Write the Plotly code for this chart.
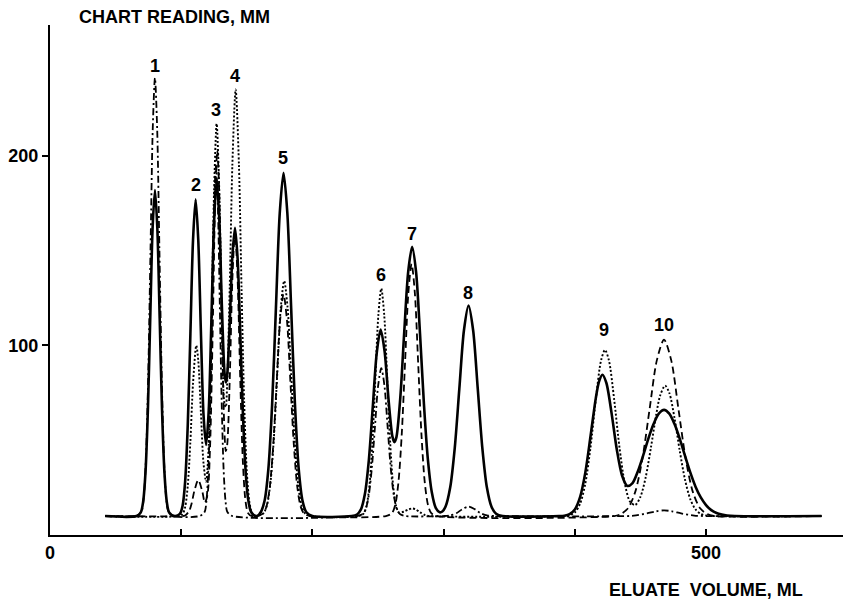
import plotly.graph_objects as go

# ---- data (eluate volume in ml, chart reading in mm) ----
solid_x = [42, 66, 69.2, 71, 72.8, 74.6, 76.4, 78.2, 80, 81.8, 83.6, 85.4, 87.2, 89, 90.8, 95,
           99, 101, 103, 105, 107, 109, 111, 113, 115, 117, 119, 121, 123, 125, 127, 129, 131, 133, 134, 135,
           137, 139, 141, 143, 145, 147, 149, 151, 153, 155, 158,
           160.6, 163.5, 166.4, 169.3, 172.2, 175.1, 178, 180.9, 183.8, 186.7, 189.6, 192.5, 195.4, 200,
           230, 234, 237, 240, 243, 246, 249, 252, 255, 258, 261, 262.5, 264, 267, 270, 273, 276, 279, 282,
           285, 288, 291, 294, 297, 299, 301.5, 305, 308.5, 312, 315.5, 319, 322.5, 326, 329.5, 333, 336.5,
           340, 345,
           388, 392, 396, 400, 404, 408, 412, 416, 418.5, 421, 424, 428, 432, 436, 440, 444, 448, 452, 456,
           460, 464, 468, 472, 476, 480, 484, 488, 492, 496, 500, 504, 508, 512, 516, 522, 588]
solid_y = [10, 10, 11.9, 17.6, 33.3, 65.8, 114.3, 161.8, 182, 161.8, 114.3, 65.8, 33.3, 17.6, 11.9, 10,
           11.1, 15.2, 28.2, 58, 106, 155.4, 177, 155.6, 107.2, 63.5, 47.5, 66, 112.9, 164.2, 187.6, 166.8, 120.7, 85.6, 80.5, 84,
           112, 146.9, 162, 145.7, 106.5, 64.7, 34.8, 18.9, 12.6, 10.6, 10,
           12, 17.9, 34.5, 68.8, 119.8, 169.7, 191, 169.7, 119.8, 68.8, 34.5, 17.9, 12, 10,
           10, 10.8, 13.5, 21.6, 39.4, 67.4, 95.8, 108.3, 97, 71.7, 51.9, 49, 51.5, 72.6, 107.1, 138.8, 152, 138.8, 106.3,
           69.1, 39.9, 22.5, 14.3, 12, 12.4, 15, 25, 46, 77.3, 108, 121, 108, 77.3, 46, 25, 14.9,
           11.2, 10,
           10, 10.2, 11, 13.5, 20, 32.9, 52.2, 72.2, 81, 84.5, 80.3, 64.3, 45.1, 31.4, 25.9, 27.4, 33.5, 41.7, 50.7,
           58.5, 64, 66, 64, 58.5, 50.7, 41.7, 33, 25.5, 19.8, 15.8, 13.1, 11.6, 10.8, 10.3, 10, 10]

dotted_x = [42, 98, 101, 103, 105, 107, 109, 111.5, 113, 115, 117, 119, 121, 123, 125, 127, 129, 131, 133, 134, 135,
            137, 139, 141.5, 144, 146, 148, 150, 152, 154, 157,
            162.6, 165.25, 167.9, 170.55, 173.2, 175.85, 178.5, 181.15, 183.8, 186.45, 189.1, 191.75, 194.4, 199,
            235, 239, 241.25, 243.5, 245.75, 248, 250.25, 252.5, 254.75, 257, 259.25, 261.5, 263.75, 266, 270,
            273, 276, 279, 282, 286, 290,
            392, 396, 400, 404, 408, 412, 416, 420, 423, 426, 430, 434, 438, 442, 446, 450, 454, 458, 462, 465,
            468.8, 472, 476, 480, 484, 488, 492, 496, 500, 505, 588]
dotted_y = [10, 10, 11, 14.7, 26, 49.4, 79.8, 100, 92.1, 64.8, 37.8, 28.2, 47.9, 105.2, 180.4, 217, 182.1, 112, 69.1, 67.5, 79.2,
            131.1, 195.4, 235, 195.2, 129.5, 70.1, 33.5, 17.2, 11.7, 10,
            11.4, 15.4, 26.8, 50.3, 85.2, 119.4, 134, 119.4, 85.2, 50.3, 26.8, 15.4, 11.4, 10,
            10, 11.3, 15.3, 26.2, 49, 82.8, 115.9, 130, 115.9, 82.8, 49, 26.2, 15.3, 11.8, 12.4,
            13.4, 14, 13.4, 12, 10.5, 10,
            10, 10.4, 11.9, 16.4, 27.1, 46.4, 71.4, 92.1, 97.6, 92.1, 71.4, 46.4, 27.5, 17.7, 15.8, 20.1, 30.4, 46.1, 63.3, 73.5,
            78.8, 75, 61.6, 44.3, 29.1, 18.9, 13.5, 11.1, 10.3, 10, 10]

dashed_x = [42, 100, 103, 106, 108, 110, 113, 116, 118, 120, 122, 124, 126, 127.5, 129, 131, 133, 134, 135,
            137, 139, 141, 143, 145, 147, 149, 151, 154,
            162.4, 165, 167.6, 170.2, 172.8, 175.4, 178, 180.6, 183.2, 185.8, 188.4, 191, 193.6, 198,
            256, 260.6, 263.1, 265.6, 268.1, 270.6, 273.1, 275.6, 278.1, 280.6, 283.1, 285.6, 288.1, 290.6, 295,
            430, 435, 440.5, 446, 451.5, 457, 462.5, 468, 473.5, 479, 484.5, 490, 495.5, 501, 507, 588]
dashed_y = [10, 10, 10.3, 12.6, 16.8, 23.2, 29, 23.2, 17.1, 21.1, 46.6, 107.6, 180.3, 203, 180.3, 109.1, 53.9, 44.2, 47.2,
            82.3, 134.8, 160, 134.8, 82, 38.7, 18, 11.5, 10,
            11.3, 15.1, 25.8, 48, 81, 113.3, 127, 113.3, 81, 48, 25.8, 15.1, 11.3, 10,
            10, 11.5, 15.8, 28, 53.2, 90.7, 127.4, 143, 127.4, 90.7, 53.2, 28, 15.8, 11.5, 10,
            10, 11, 14.1, 22.6, 40.2, 66.4, 92.1, 103, 92.1, 66.4, 40.2, 22.6, 14.1, 11, 10, 10]

dashdot_x = [42, 66, 69.8, 71.5, 73.2, 74.9, 76.6, 78.3, 80, 81.7, 83.4, 85.1, 86.8, 88.5, 90.2, 94,
             114, 117.8, 119.25, 120.7, 122.15, 123.6, 125.05, 126.5, 127.95, 129.4, 130.85, 132.3, 133.75, 135.2, 139,
             234, 238.1, 240.5, 242.9, 245.3, 247.7, 250.1, 252.5, 254.9, 257.3, 259.7, 262.1, 264.5, 266.9, 271,
             300, 305, 310, 314, 319, 324, 328, 333, 340,
             440, 445, 455, 462, 468, 474, 481, 491, 500, 588]
dashdot_y = [10, 10, 12.6, 20.1, 41.3, 85, 150.1, 213.9, 241, 213.9, 150.1, 85, 41.3, 20.1, 12.6, 10,
             10, 12.1, 18.1, 35, 70.1, 122.2, 173.3, 195, 173.3, 122.2, 70.1, 35, 18.1, 12.1, 10,
             10, 10.9, 13.4, 20.6, 35.3, 57.3, 78.8, 88, 78.8, 57.3, 35.3, 20.6, 13.4, 10.9, 10,
             10, 10.3, 11.6, 13.5, 15, 13.5, 11.6, 10.3, 10,
             10, 10.2, 11.4, 12.5, 13, 12.5, 11.4, 10.2, 10, 10]

peak_labels = ["1", "2", "3", "4", "5", "6", "7", "8", "9", "10"]
label_x = [80, 111.3, 126.5, 141, 177.5, 252.3, 275.9, 318.6, 422.3, 467.7]
label_y = [247.6, 184.6, 224, 242, 198.8, 137, 158.7, 127.6, 108, 110.8]

x_tickvals = [0, 100, 200, 300, 400, 500]
x_ticktext = ["0", "", "", "", "", "500"]
y_tickvals = [100, 200]
y_ticktext = ["100", "200"]

FONT = "Liberation Sans, Arial, sans-serif"

fig = go.Figure()
styles = [
    (dotted_x, dotted_y, "2px,2px", 1.9),
    (dashed_x, dashed_y, "7px,4px", 1.8),
    (dashdot_x, dashdot_y, "7px,3px,2px,3px", 1.8),
    (solid_x, solid_y, "solid", 2.6),
]
for xs, ys, dash, w in styles:
    fig.add_trace(go.Scatter(
        x=xs, y=ys, mode="lines",
        line=dict(color="black", width=w, dash=dash, shape="spline", smoothing=0.8),
        showlegend=False, hoverinfo="skip"))

for t, lx, ly in zip(peak_labels, label_x, label_y):
    fig.add_annotation(x=lx, y=ly, xref="x", yref="y", text=t, showarrow=False,
                       font=dict(family=FONT, size=18, color="black", weight="bold"))

fig.add_annotation(x=20.6, y=1.0157, xref="x", yref="paper", text="CHART READING, MM",
                   showarrow=False, xanchor="left", yanchor="middle",
                   font=dict(family=FONT, size=18, color="black", weight="bold"))
fig.add_annotation(x=500, y=-0.108, xref="x", yref="paper", text="ELUATE  VOLUME, ML",
                   showarrow=False, xanchor="center", yanchor="middle",
                   font=dict(family=FONT, size=18, color="black", weight="bold"))

fig.update_layout(
    width=843, height=604,
    margin=dict(l=50, r=0, t=25, b=69),
    paper_bgcolor="white", plot_bgcolor="white",
    xaxis=dict(range=[0, 604.4], showline=True, linecolor="black", linewidth=2,
               ticks="inside", ticklen=6, tickwidth=1.5, tickcolor="black",
               tickvals=x_tickvals, ticktext=x_ticktext, showgrid=False, zeroline=False,
               tickfont=dict(family=FONT, size=18, color="black", weight="bold")),
    yaxis=dict(range=[0, 269], showline=True, linecolor="black", linewidth=2,
               ticks="outside", ticklen=6, tickwidth=1.5, tickcolor="black",
               tickvals=y_tickvals, ticktext=y_ticktext, showgrid=False, zeroline=False,
               tickfont=dict(family=FONT, size=18, color="black", weight="bold")),
)

fig.write_html("out.html")
